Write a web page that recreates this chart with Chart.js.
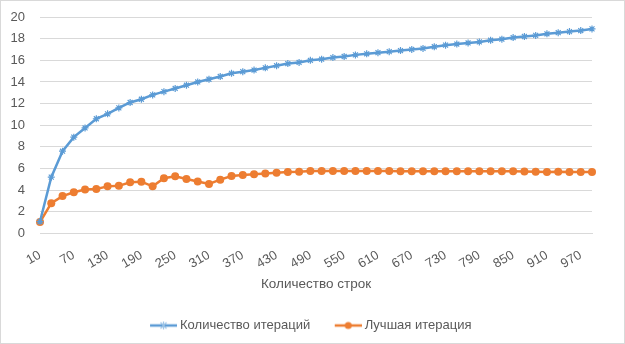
<!DOCTYPE html>
<html>
<head>
<meta charset="utf-8">
<script src="https://cdn.jsdelivr.net/npm/chart.js@4.4.1/dist/chart.umd.min.js"></script>
<style>
  html, body { margin: 0; padding: 0; background: #fff; }
  #wrap { position: relative; width: 623px; height: 342px; border: 1px solid #d9d9d9; }
</style>
</head>
<body>
<div id="wrap"><canvas id="chart"></canvas></div>
<script>
// categories: number of rows
var rows = [10, 30, 50, 70, 90, 110, 130, 150, 170, 190,
            210, 230, 250, 270, 290, 310, 330, 350, 370, 390,
            410, 430, 450, 470, 490, 510, 530, 550, 570, 590,
            610, 630, 650, 670, 690, 710, 730, 750, 770, 790,
            810, 830, 850, 870, 890, 910, 930, 950, 970, 990];

var iterCount = [1.1, 5.2, 7.6, 8.9, 9.75, 10.6, 11.05, 11.6, 12.1, 12.4,
                 12.8, 13.1, 13.4, 13.7, 14.0, 14.25, 14.5, 14.8, 14.95, 15.1,
                 15.3, 15.5, 15.7, 15.8, 16.0, 16.1, 16.25, 16.35, 16.5, 16.6,
                 16.7, 16.8, 16.9, 17.0, 17.1, 17.25, 17.4, 17.5, 17.6, 17.7,
                 17.85, 17.95, 18.1, 18.2, 18.3, 18.45, 18.55, 18.65, 18.75, 18.9];

var bestIter = [1.05, 2.8, 3.45, 3.8, 4.05, 4.1, 4.35, 4.4, 4.72, 4.78,
                4.35, 5.1, 5.28, 5.03, 4.8, 4.57, 4.97, 5.3, 5.4, 5.46,
                5.55, 5.6, 5.68, 5.7, 5.77, 5.78, 5.78, 5.78, 5.78, 5.78,
                5.78, 5.77, 5.75, 5.75, 5.75, 5.75, 5.75, 5.75, 5.75, 5.75,
                5.75, 5.75, 5.74, 5.72, 5.7, 5.68, 5.7, 5.68, 5.68, 5.68];

var seriesNames = ['Количество итераций', 'Лучшая итерация'];
var yTicks = [0, 2, 4, 6, 8, 10, 12, 14, 16, 18, 20];

var blue = '#5b9bd5';
var orange = '#ed7d31';
var grey = '#595959';
var font = 'Liberation Sans';

// legend pictures: empty space on the left (gap to previous item), then line + marker
function legendIcon(color, style) {
  var c = document.createElement('canvas');
  c.width = 45; c.height = 10;
  var g = c.getContext('2d');
  var x0 = 18;
  g.strokeStyle = color; g.lineWidth = 2.5;
  g.beginPath(); g.moveTo(x0, 5); g.lineTo(x0 + 27, 5); g.stroke();
  var cx = x0 + 13.5;
  if (style === 'circle') {
    g.fillStyle = color;
    g.beginPath(); g.arc(cx, 5, 3.5, 0, Math.PI * 2); g.fill();
  } else {
    g.strokeStyle = '#9cc3e6';
    g.lineWidth = 1.2;
    g.beginPath();
    g.moveTo(cx - 3, 2); g.lineTo(cx + 3, 8);
    g.moveTo(cx + 3, 2); g.lineTo(cx - 3, 8);
    g.moveTo(cx, 1); g.lineTo(cx, 9);
    g.stroke();
  }
  return c;
}

var icons = [legendIcon(blue, 'star'), legendIcon(orange, 'circle')];

var nudgeLegend = {
  id: 'nudgeLegend',
  afterLayout: function (chart) {
    chart.legend.left += 7;
    chart.legend.right += 7;
  }
};

new Chart(document.getElementById('chart'), {
  type: 'line',
  data: {
    labels: rows,
    datasets: [
      {
        label: seriesNames[0],
        data: iterCount,
        borderColor: blue,
        backgroundColor: blue,
        borderWidth: 2.5,
        pointStyle: 'star',
        pointRadius: 3.5,
        pointBorderWidth: 1.2,
        pointBorderColor: blue,
        tension: 0
      },
      {
        label: seriesNames[1],
        data: bestIter,
        borderColor: orange,
        backgroundColor: orange,
        borderWidth: 2.5,
        pointStyle: 'circle',
        pointRadius: 4,
        pointBorderWidth: 0,
        tension: 0
      }
    ]
  },
  plugins: [nudgeLegend],
  options: {
    responsive: true,
    maintainAspectRatio: false,
    animation: false,
    layout: { padding: { top: 16, left: 0, right: 32, bottom: 1 } },
    plugins: {
      legend: {
        position: 'bottom',
        labels: {
          color: grey,
          font: { family: font, size: 13 },
          usePointStyle: true,
          pointStyleWidth: 38,
          padding: 10,
          generateLabels: function (chart) {
            return chart.data.datasets.map(function (ds, i) {
              return {
                text: ds.label,
                pointStyle: icons[i],
                fillStyle: ds.borderColor,
                strokeStyle: ds.borderColor,
                lineWidth: 0,
                fontColor: grey,
                hidden: false,
                datasetIndex: i
              };
            });
          }
        }
      },
      tooltip: { enabled: false }
    },
    scales: {
      x: {
        offset: false,
        grid: { display: false },
        border: { color: '#d9d9d9' },
        afterFit: function (s) { s.paddingLeft = 0; s.paddingRight = 0; },
        title: {
          display: true,
          text: 'Количество строк',
          color: grey,
          font: { family: font, size: 13.5 },
          padding: { top: -2, bottom: 17 }
        },
        ticks: {
          color: grey,
          font: { family: font, size: 13 },
          autoSkip: false,
          maxRotation: 30,
          minRotation: 30,
          padding: 6,
          callback: function (v, i) { return i % 3 === 0 ? rows[i] : ''; }
        }
      },
      y: {
        min: 0,
        max: 20,
        afterBuildTicks: function (axis) {
          axis.ticks = yTicks.map(function (v) { return { value: v }; });
        },
        afterFit: function (s) { s.width = 39; s.paddingTop = 0; s.paddingBottom = 0; },
        grid: { color: '#d9d9d9', drawTicks: false },
        border: { display: false },
        ticks: {
          color: grey,
          font: { family: font, size: 13 },
          padding: 15
        }
      }
    }
  }
});
</script>
</body>
</html>
